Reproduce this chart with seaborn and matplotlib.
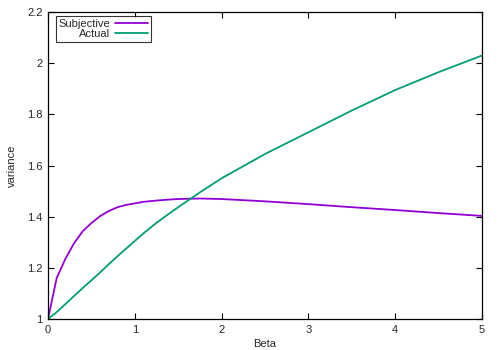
import pandas as pd
import seaborn as sns
import matplotlib
matplotlib.use("Agg")
import matplotlib.pyplot as plt

# Valori
beta = [0.0, 0.1, 0.2, 0.3, 0.4, 0.5, 0.6, 0.7, 0.8, 0.9, 1.0, 1.1, 1.25,
        1.4, 1.5, 1.75, 2.0, 2.5, 3.0, 3.5, 4.0, 4.5, 5.0]
subjective = [1.0, 1.16, 1.235, 1.296, 1.343, 1.375, 1.402, 1.422, 1.437,
              1.446, 1.452, 1.458, 1.463, 1.467, 1.469, 1.471, 1.469, 1.46,
              1.449, 1.437, 1.426, 1.414, 1.403]
actual = [1.0, 1.027, 1.058, 1.09, 1.121, 1.151, 1.182, 1.214, 1.245,
          1.275, 1.305, 1.335, 1.376, 1.413, 1.437, 1.495, 1.55, 1.645, 1.73,
          1.815, 1.895, 1.965, 2.03]

series_names = ["Subjective", "Actual"]
x_ticks = [0, 1, 2, 3, 4, 5]
x_tick_labels = ["0", "1", "2", "3", "4", "5"]
y_ticks = [1.0, 1.2, 1.4, 1.6, 1.8, 2.0, 2.2]
y_tick_labels = ["1", "1.2", "1.4", "1.6", "1.8", "2", "2.2"]

df = pd.DataFrame({
    "Beta": beta * 2,
    "variance": subjective + actual,
    "serie": [series_names[0]] * len(beta) + [series_names[1]] * len(beta),
})

sns.set_style("ticks")
plt.rcParams["font.family"] = ["Liberation Sans", "DejaVu Sans"]

fig = plt.figure(figsize=(5, 3.5), dpi=100)
fig.patch.set_facecolor("white")
ax = fig.add_axes([0.096, 0.0886, 0.868, 0.877])

sns.lineplot(data=df, x="Beta", y="variance", hue="serie",
             palette={"Subjective": "#9400D3", "Actual": "#009E73"},
             linewidth=1.3, ax=ax)

ax.set_xlim(0, 5)
ax.set_ylim(1, 2.2)
ax.set_xticks(x_ticks)
ax.set_xticklabels(x_tick_labels)
ax.set_yticks(y_ticks)
ax.set_yticklabels(y_tick_labels)
ax.tick_params(direction="in", length=4, width=0.8, labelsize=8,
               top=True, right=True, color="black", pad=4)
for sp in ax.spines.values():
    sp.set_visible(True)
    sp.set_color("black")
    sp.set_linewidth(0.9)

ax.set_xlabel("Beta", fontsize=8, labelpad=3)
ax.set_ylabel("variance", fontsize=8, labelpad=7)

handles, labels = ax.get_legend_handles_labels()
leg = ax.legend(handles, labels, loc="upper right",
                bbox_to_anchor=(0.237, 0.987),
                markerfirst=False, fontsize=8, frameon=True,
                fancybox=False, handlelength=3.0, handletextpad=0.4,
                borderpad=0.25, labelspacing=0.0, borderaxespad=0.0)
leg.get_frame().set_edgecolor("black")
leg.get_frame().set_linewidth(0.8)
for t in leg.get_texts():
    t.set_ha("right")
leg._legend_box.align = "right"

fig.savefig("out.png", dpi=100)
